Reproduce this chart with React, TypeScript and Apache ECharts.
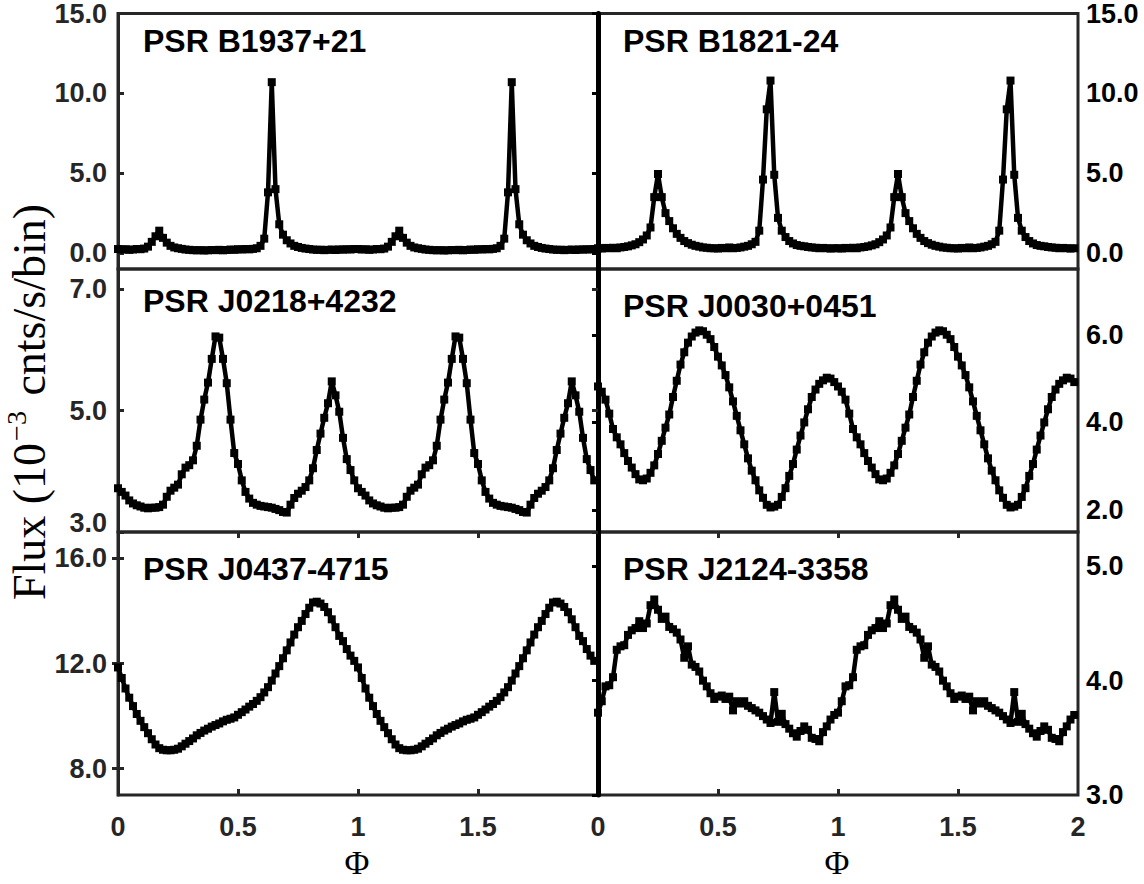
import React, { useEffect, useRef } from "react";
import * as echarts from "echarts";

// ---- data: one rotation of each pulse profile, 64 phase bins (profile shown twice) ----
const BINS = 64;

const B1937 = [
  0.25, 0.22, 0.24, 0.20, 0.22, 0.25, 0.24, 0.28, 0.40, 0.70, 1.05, 1.40, 0.95, 0.65, 0.45, 0.35,
  0.30, 0.26, 0.22, 0.20, 0.18, 0.17, 0.18, 0.16, 0.17, 0.19, 0.18, 0.20, 0.17, 0.19, 0.22, 0.20,
  0.24, 0.22, 0.25, 0.23, 0.26, 0.30, 0.45, 0.90, 3.80, 10.70, 4.00, 1.80, 1.15, 0.80, 0.60, 0.45,
  0.38, 0.32, 0.28, 0.25, 0.22, 0.20, 0.21, 0.18, 0.20, 0.22, 0.19, 0.23, 0.21, 0.24, 0.22, 0.25,
];

const B1821 = [
  0.30, 0.28, 0.32, 0.30, 0.33, 0.30, 0.35, 0.38, 0.42, 0.48, 0.55, 0.68, 0.85, 1.10, 1.60, 3.50,
  4.95, 3.50, 2.50, 2.00, 1.55, 1.20, 0.95, 0.75, 0.62, 0.52, 0.45, 0.40, 0.35, 0.33, 0.30, 0.30,
  0.28, 0.32, 0.30, 0.35, 0.30, 0.32, 0.35, 0.40, 0.45, 0.55, 0.70, 1.40, 4.60, 9.00, 10.80, 4.90,
  2.20, 1.40, 1.00, 0.75, 0.60, 0.50, 0.45, 0.42, 0.38, 0.35, 0.33, 0.30, 0.32, 0.30, 0.28, 0.30,
];

const J0218 = [
  3.72, 3.66, 3.60, 3.52, 3.47, 3.44, 3.42, 3.40, 3.39, 3.40, 3.40, 3.41, 3.45, 3.58, 3.68, 3.73,
  3.78, 3.95, 4.06, 4.10, 4.18, 4.42, 4.85, 5.18, 5.46, 5.85, 6.22, 6.20, 5.85, 5.45, 4.85, 4.30,
  4.12, 3.85, 3.66, 3.55, 3.48, 3.45, 3.43, 3.42, 3.41, 3.40, 3.38, 3.36, 3.33, 3.32, 3.45, 3.56,
  3.63, 3.68, 3.74, 3.85, 4.05, 4.35, 4.62, 4.88, 5.12, 5.48, 5.25, 4.98, 4.55, 4.20, 4.02, 3.85,
];

const J0030 = [
  4.82, 4.70, 4.52, 4.20, 3.85, 3.66, 3.50, 3.30, 3.12, 2.97, 2.82, 2.70, 2.68, 2.72, 2.85, 3.02,
  3.28, 3.58, 3.88, 4.18, 4.58, 4.95, 5.32, 5.60, 5.82, 5.96, 6.05, 6.10, 6.08, 6.00, 5.90, 5.72,
  5.50, 5.30, 5.08, 4.80, 4.48, 4.15, 3.82, 3.50, 3.18, 2.90, 2.68, 2.45, 2.28, 2.12, 2.06, 2.08,
  2.12, 2.30, 2.50, 2.78, 3.05, 3.38, 3.70, 4.00, 4.30, 4.58, 4.75, 4.88, 4.96, 5.02, 5.00, 4.92,
];

const J0437 = [
  11.85, 11.45, 11.05, 10.70, 10.38, 10.08, 9.82, 9.58, 9.35, 9.12, 8.92, 8.78, 8.72, 8.70, 8.70, 8.72,
  8.76, 8.85, 8.95, 9.05, 9.15, 9.27, 9.36, 9.45, 9.52, 9.60, 9.66, 9.72, 9.80, 9.86, 9.90, 9.95,
  10.05, 10.15, 10.25, 10.36, 10.46, 10.58, 10.72, 10.90, 11.10, 11.35, 11.62, 11.90, 12.20, 12.50, 12.80, 13.10,
  13.38, 13.62, 13.88, 14.12, 14.32, 14.35, 14.28, 14.15, 13.95, 13.68, 13.38, 13.05, 12.85, 12.55, 12.30, 12.10,
];

const J2124 = [
  3.72, 3.82, 3.95, 3.96, 4.03, 4.27, 4.30, 4.31, 4.40, 4.44, 4.46, 4.52, 4.46, 4.50, 4.66, 4.71,
  4.62, 4.54, 4.56, 4.47, 4.45, 4.42, 4.36, 4.20, 4.30, 4.14, 4.12, 4.08, 4.00, 3.95, 3.89, 3.84,
  3.86, 3.87, 3.84, 3.86, 3.74, 3.82, 3.80, 3.82, 3.78, 3.76, 3.74, 3.72, 3.69, 3.66, 3.63, 3.90,
  3.64, 3.71, 3.62, 3.58, 3.54, 3.51, 3.56, 3.60, 3.57, 3.50, 3.49, 3.47, 3.55, 3.60, 3.66, 3.70,
];

const PHASE_TICKS = [0, 0.5, 1, 1.5, 2];
const PHASE_TICKS_LEFT = [0, 0.5, 1, 1.5];
const PHASE_INNER_TICKS = [0.5, 1, 1.5];

const NAMES = ["PSR B1937+21", "PSR B1821-24", "PSR J0218+4232", "PSR J0030+0451", "PSR J0437-4715", "PSR J2124-3358"];
const PROFILES = [B1937, B1821, J0218, J0030, J0437, J2124];
const Y_MIN = [-1, -1, 3, 1.5, 7, 3];
const Y_MAX = [15, 15, 7.33, 7.5, 17, 5.3];
const Y_TICKS = [
  [0, 5, 10, 15],
  [0, 5, 10, 15],
  [3, 5, 7],
  [2, 4, 6],
  [8, 12, 16],
  [3, 4, 5],
];

// ---- layout & style ----
const GRAY = "#262626";
const SANS = '"Liberation Sans", Arial, Helvetica, sans-serif';
const SERIF = '"Liberation Serif", "Times New Roman", serif';
const LEFT = 118;
const COLW = 480;
const ROWS = [
  { top: 9, height: 260 },
  { top: 269, height: 263 },
  { top: 532, height: 263 },
];
const NAME_Y = [43, 43, 303, 308, 571, 571];

function buildOption() {
  const grid: any[] = [];
  const xAxis: any[] = [];
  const yAxis: any[] = [];
  const series: any[] = [];
  const graphic: any[] = [];

  PROFILES.forEach((prof, i) => {
    const col = i % 2;
    const row = Math.floor(i / 2);
    const isBottom = row === 2;
    grid.push({
      left: LEFT + col * COLW,
      top: ROWS[row].top,
      width: COLW,
      height: ROWS[row].height,
      show: true,
      borderColor: GRAY,
      borderWidth: 3,
      backgroundColor: "transparent",
    });

    const xi = xAxis.length;
    const tickStyle = { show: isBottom, inside: true, length: 6, customValues: PHASE_INNER_TICKS, lineStyle: { color: GRAY, width: 3 } };
    xAxis.push({
      type: "value",
      gridIndex: i,
      min: 0,
      max: 2,
      position: "bottom",
      axisLine: { show: false },
      splitLine: { show: false },
      axisTick: tickStyle,
      axisLabel: {
        show: isBottom,
        customValues: col === 0 ? PHASE_TICKS_LEFT : PHASE_TICKS,
        formatter: (v: number) => String(v),
        fontSize: 27,
        fontWeight: "bold",
        fontFamily: SANS,
        color: GRAY,
        margin: 18,
      },
    });
    if (isBottom) {
      xAxis.push({
        type: "value",
        gridIndex: i,
        min: 0,
        max: 2,
        position: "top",
        axisLine: { show: false },
        splitLine: { show: false },
        axisTick: { ...tickStyle, show: true },
        axisLabel: { show: false },
      });
    }

    const yi = yAxis.length;
    const labelColor = col === 0 ? GRAY : "#000";
    const minV = Y_MIN[i];
    yAxis.push({
      type: "value",
      gridIndex: i,
      min: Y_MIN[i],
      max: Y_MAX[i],
      position: col === 0 ? "left" : "right",
      axisLine: { show: true, lineStyle: { color: col === 0 ? GRAY : "#000", width: col === 0 ? 3 : 5 } },
      splitLine: { show: false },
      axisTick: { show: true, inside: true, length: 6, customValues: Y_TICKS[i], lineStyle: { color: labelColor, width: 3 } },
      axisLabel: {
        customValues: Y_TICKS[i],
        formatter: (v: number) => (col === 0 && row === 1 && v === minV ? `{lo|${v.toFixed(1)}}` : v.toFixed(1)),
        fontSize: 27,
        fontWeight: "bold",
        fontFamily: SANS,
        color: labelColor,
        margin: col === 0 ? 11 : 8,
        rich: {
          lo: { fontSize: 27, fontWeight: "bold", fontFamily: SANS, color: labelColor, padding: [0, 0, 18, 0] },
        },
      },
    });
    if (col === 0) {
      yAxis.push({
        type: "value",
        gridIndex: i,
        min: Y_MIN[i],
        max: Y_MAX[i],
        position: "right",
        axisLine: { show: false },
        splitLine: { show: false },
        axisTick: { show: true, inside: true, length: 6, customValues: Y_TICKS[i], lineStyle: { color: GRAY, width: 3 } },
        axisLabel: { show: false },
      });
    } else {
      yAxis.push({
        type: "value",
        gridIndex: i,
        min: Y_MIN[i],
        max: Y_MAX[i],
        position: "left",
        axisLine: { show: true, lineStyle: { color: "#000", width: 4 } },
        splitLine: { show: false },
        axisTick: { show: false },
        axisLabel: { show: false },
      });
    }

    const data: number[][] = [];
    for (let k = 0; k < 2 * BINS; k++) data.push([k / BINS, prof[k % BINS]]);
    series.push({
      type: "line",
      xAxisIndex: xi,
      yAxisIndex: yi,
      data,
      symbol: "rect",
      symbolSize: 8,
      showAllSymbol: true,
      lineStyle: { color: "#000", width: 4.5 },
      itemStyle: { color: "#000" },
      silent: true,
      z: 3,
    });

    graphic.push({
      type: "text",
      left: LEFT + col * COLW + 25,
      top: NAME_Y[i] - 18,
      style: { text: NAMES[i], font: `bold 32px ${SANS}`, fill: "#000" },
    });
  });

  graphic.push({
    type: "text",
    x: 357,
    y: 862,
    style: { text: "Φ", font: `34px ${SERIF}`, fill: "#000", align: "center", verticalAlign: "middle" },
  });
  graphic.push({
    type: "text",
    x: 837,
    y: 862,
    style: { text: "Φ", font: `34px ${SERIF}`, fill: "#000", align: "center", verticalAlign: "middle" },
  });
  graphic.push({
    type: "text",
    x: 27,
    y: 402,
    rotation: Math.PI / 2,
    style: {
      text: "{m|Flux (10}{s|−3}{m| cnts/s/bin)}",
      align: "center",
      verticalAlign: "middle",
      fill: "#000",
      rich: {
        m: { fontFamily: SERIF, fontSize: 46, lineHeight: 50, verticalAlign: "bottom", fill: "#000" },
        s: { fontFamily: SERIF, fontSize: 28, lineHeight: 50, verticalAlign: "top", fill: "#000", padding: [0, 4, 0, 2] },
      },
    },
  });

  return { animation: false, backgroundColor: "#fff", grid, xAxis, yAxis, series, graphic };
}

export default function App() {
  const ref = useRef<HTMLDivElement>(null);
  useEffect(() => {
    if (!ref.current) return;
    const chart = echarts.init(ref.current, undefined, { renderer: "svg" });
    chart.setOption(buildOption() as any);
    return () => chart.dispose();
  }, []);
  return <div ref={ref} style={{ position: "absolute", left: 0, top: 0, width: 1144, height: 884 }} />;
}
